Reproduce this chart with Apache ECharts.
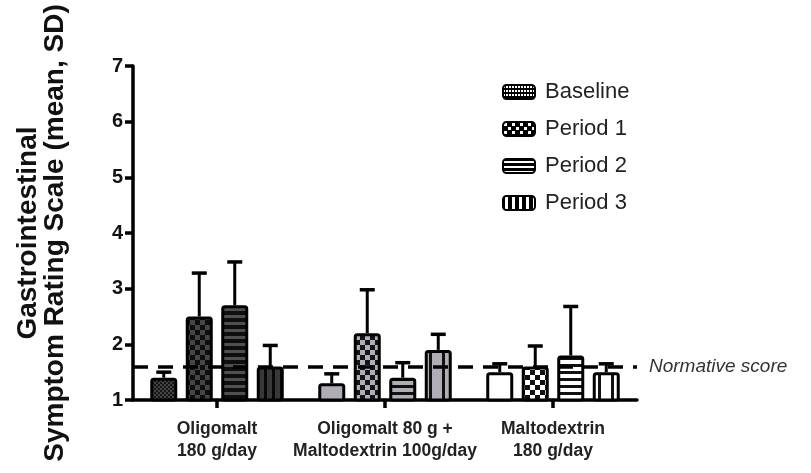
<!DOCTYPE html>
<html>
<head>
<meta charset="utf-8">
<script src="https://cdn.jsdelivr.net/npm/echarts@6/dist/echarts.min.js"></script>
<style>
html,body{margin:0;padding:0;background:#fff;}
#chart{width:811px;height:473px;}
</style>
</head>
<body>
<div id="chart"></div>
<script>
// ---- data ----
const categories = ['Oligomalt\n180 g/day', 'Oligomalt 80 g +\nMaltodextrin 100g/day', 'Maltodextrin\n180 g/day'];
const seriesNames = ['Baseline', 'Period 1', 'Period 2', 'Period 3'];
const baselineMean = [1.4, 1.3, 1.5];
const baselineSD = [0.1, 0.17, 0.15];
const period1Mean = [2.5, 2.2, 1.6];
const period1SD = [0.78, 0.78, 0.37];
const period2Mean = [2.7, 1.4, 1.8];
const period2SD = [0.78, 0.27, 0.88];
const period3Mean = [1.6, 1.9, 1.5];
const period3SD = [0.38, 0.28, 0.15];
const normativeScore = 1.6;
const yTicks = [1, 2, 3, 4, 5, 6, 7];

const means = [baselineMean, period1Mean, period2Mean, period3Mean];
const sds = [baselineSD, period1SD, period2SD, period3SD];

// ---- patterns ----
function pattern(bg, fg, kind) {
  const c = document.createElement('canvas');
  let w = 8, h = 8;
  if (kind === 'fine') { w = 4; h = 4; }
  if (kind === 'checker') { w = 10; h = 10; }
  if (kind === 'hlines') { w = 8; h = 7; }
  if (kind === 'vlines') { w = 8; h = 8; }
  if (kind === 'vwide') { w = 13; h = 8; }
  if (kind === 'lfine') { w = 6; h = 4; }
  if (kind === 'lchecker') { w = 8; h = 8; }
  if (kind === 'lhlines') { w = 6; h = 5; }
  if (kind === 'lvlines') { w = 7; h = 6; }
  c.width = w; c.height = h;
  const g = c.getContext('2d');
  g.fillStyle = bg; g.fillRect(0, 0, w, h);
  g.fillStyle = fg;
  if (kind === 'fine') { g.fillRect(0, 0, 2, 2); g.fillRect(2, 2, 2, 2); }
  if (kind === 'checker') { g.fillRect(0, 0, 5, 5); g.fillRect(5, 5, 5, 5); }
  if (kind === 'hlines') { g.fillRect(0, 0, w, 3); }
  if (kind === 'vlines') { g.fillRect(0, 0, 3, h); }
  if (kind === 'vwide') { g.fillRect(0, 0, 3, h); }
  if (kind === 'lfine') { g.fillRect(0, 1, 2, 2); g.fillRect(3, 1, 2, 2); }
  if (kind === 'lchecker') { g.fillRect(1, 1, 3, 3); g.fillRect(5, 5, 3, 3); }
  if (kind === 'lhlines') { g.fillRect(0, 2, w, 2); }
  if (kind === 'lvlines') { g.fillRect(2, 0, 3, h); }
  return { image: c, repeat: 'repeat' };
}

const GRAY = '#b2acb7';
const barStyles = [
  // Baseline
  [pattern('#161616', '#444444', 'fine'), pattern(GRAY, GRAY, 'fine'), '#ffffff'],
  // Period 1
  [pattern('#0e0e0e', '#464646', 'checker'), pattern('#141414', GRAY, 'checker'), pattern('#ffffff', '#111111', 'checker')],
  // Period 2
  [pattern('#0e0e0e', '#505050', 'hlines'), pattern(GRAY, '#111111', 'hlines'), pattern('#ffffff', '#111111', 'hlines')],
  // Period 3
  [pattern('#383838', '#080808', 'vlines'), pattern(GRAY, '#111111', 'vwide'), pattern('#ffffff', '#111111', 'vwide')]
];
const legendStyles = [
  pattern('#000000', '#ffffff', 'lfine'),
  pattern('#000000', '#ffffff', 'lchecker'),
  pattern('#000000', '#ffffff', 'lhlines'),
  pattern('#000000', '#ffffff', 'lvlines')
];

const BAR_W = 27;
const GAP = 8.5;

const series = [];
// normative dashed line (behind bars)
series.push({
  type: 'line',
  name: 'norm',
  data: [],
  z: 1,
  silent: true,
  markLine: {
    silent: true,
    symbol: 'none',
    lineStyle: { color: '#000', width: 3.5, type: [15, 10] },
    label: {
      show: true, position: 'end', distance: 12,
      formatter: 'Normative score',
      fontFamily: 'Liberation Sans, Arial', fontStyle: 'italic', fontSize: 19, color: '#333',
      textBorderWidth: 0
    },
    data: [{ yAxis: normativeScore }]
  }
});

seriesNames.forEach((name, i) => {
  series.push({
    type: 'bar',
    name: name,
    z: 3,
    barWidth: BAR_W,
    barGap: (GAP / BAR_W * 100) + '%',
    itemStyle: { color: legendStyles[i], borderColor: '#000', borderWidth: 3, borderRadius: 2 },
    data: means[i].map((v, k) => ({
      value: v,
      itemStyle: { color: barStyles[i][k], borderColor: '#000', borderWidth: 3, borderRadius: 2 }
    }))
  });
});

// error bars
const errData = [];
for (let i = 0; i < 4; i++) {
  for (let k = 0; k < 3; k++) {
    errData.push([k, means[i][k], means[i][k] + sds[i][k], i]);
  }
}
series.push({
  type: 'custom',
  name: 'err',
  z: 4,
  silent: true,
  data: errData,
  encode: { x: 0, y: [1, 2] },
  renderItem: function (params, api) {
    const k = api.value(0);
    const i = api.value(3);
    const off = (i - 1.5) * (BAR_W + GAP);
    const p0 = api.coord([k, api.value(1)]);
    const p1 = api.coord([k, api.value(2)]);
    const x = p0[0] + off;
    const half = 7.5;
    return {
      type: 'group',
      children: [
        { type: 'line', shape: { x1: x, y1: p0[1], x2: x, y2: p1[1] }, style: { stroke: '#000', lineWidth: 3 } },
        { type: 'line', shape: { x1: x - half, y1: p1[1], x2: x + half, y2: p1[1] }, style: { stroke: '#000', lineWidth: 3.5 } }
      ]
    };
  }
});

const chart = echarts.init(document.getElementById('chart'), null, { renderer: 'canvas' });
chart.setOption({
  animation: false,
  backgroundColor: '#fff',
  grid: { left: 133, right: 174, top: 66, bottom: 73 },
  legend: {
    data: seriesNames,
    orient: 'vertical',
    left: 497, top: 76,
    itemWidth: 32, itemHeight: 14,
    itemGap: 15,
    textStyle: { fontFamily: 'Liberation Sans, Arial', fontSize: 22, color: '#222', padding: [0, 0, 0, 5] },
    selectedMode: false
  },
  xAxis: {
    type: 'category',
    data: categories,
    axisLine: { lineStyle: { color: '#000', width: 3.5 } },
    axisTick: { show: true, alignWithLabel: true, length: 8, lineStyle: { color: '#000', width: 3.5 } },
    axisLabel: {
      margin: 18, interval: 0,
      fontFamily: 'Liberation Sans, Arial', fontWeight: 'bold', fontSize: 17.5, lineHeight: 22, color: '#222'
    }
  },
  yAxis: {
    type: 'value',
    min: 1, max: 7, interval: 1,
    name: 'Gastrointestinal\nSymptom Rating Scale (mean, SD)',
    nameLocation: 'middle',
    nameGap: 64,
    nameRotate: 90,
    nameTextStyle: { fontFamily: 'Liberation Sans, Arial', fontWeight: 'bold', fontSize: 28, lineHeight: 27, color: '#111' },
    axisLine: { show: true, lineStyle: { color: '#000', width: 3.5 } },
    axisTick: { show: true, length: 8, lineStyle: { color: '#000', width: 3.5 } },
    splitLine: { show: false },
    axisLabel: {
      margin: 10,
      fontFamily: 'Liberation Sans, Arial', fontWeight: 'bold', fontSize: 20, color: '#111',
      formatter: function (v) { return yTicks.indexOf(v) >= 0 ? String(v) : ''; }
    }
  },
  series: series
});
</script>
</body>
</html>
